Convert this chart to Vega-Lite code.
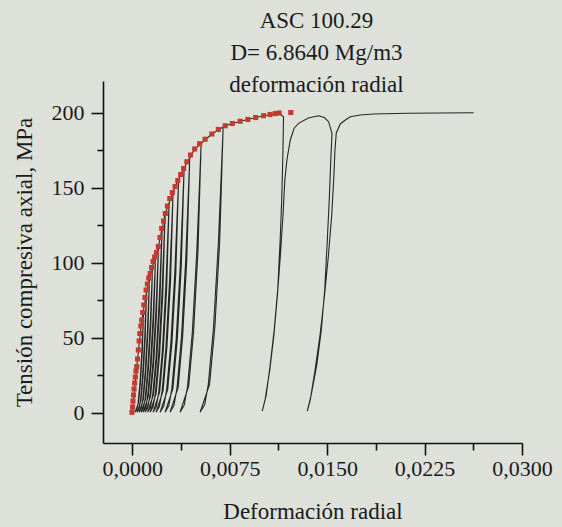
{
  "$schema": "https://vega.github.io/schema/vega-lite/v6.json",
  "width": 419,
  "height": 362,
  "autosize": {"type": "none"},
  "padding": {"left": 103, "top": 81, "right": 40, "bottom": 84},
  "background": "#dde1da",
  "config": {"view": {"stroke": null}, "font": "Liberation Serif, DejaVu Serif, serif"},
  "title": {
    "text": ["ASC 100.29", "D= 6.8640 Mg/m3", "deformación radial"],
    "font": "Liberation Serif, DejaVu Serif, serif",
    "fontSize": 23,
    "fontWeight": "normal",
    "color": "#1a1a1a",
    "lineHeight": 32,
    "anchor": "middle",
    "dx": 4,
    "offset": -16
  },
  "datasets": {
    "lines": [
      {"c":0,"x":0,"y":0.5},{"c":0,"x":0.00034,"y":31},{"c":0,"x":0.00072,"y":62},{"c":0,"x":0.00137,"y":93},{"c":0,"x":0.002,"y":111},{"c":0,"x":0.00254,"y":133},{"c":0,"x":0.00329,"y":151},{"c":0,"x":0.0039,"y":162},{"c":0,"x":0.0048,"y":176},{"c":0,"x":0.00612,"y":186},{"c":0,"x":0.00715,"y":191.5},{"c":0,"x":0.0083,"y":194.5},{"c":0,"x":0.0095,"y":197},{"c":0,"x":0.0106,"y":199},{"c":0,"x":0.0113,"y":199.6},{"c":0,"x":0.01164,"y":197.5},
      {"c":0,"x":0.01158,"y":168.7},{"c":0,"x":0.0115,"y":142},{"c":0,"x":0.01138,"y":115.3},{"c":0,"x":0.01119,"y":82},{"c":0,"x":0.01092,"y":55.3},{"c":0,"x":0.01061,"y":32},{"c":0,"x":0.01031,"y":12},{"c":0,"x":0.01,"y":1.3},
      {"c":0,"x":0.01022,"y":8.7},{"c":0,"x":0.01058,"y":28.7},{"c":0,"x":0.0109,"y":52},{"c":0,"x":0.01117,"y":78.7},{"c":0,"x":0.0114,"y":105.3},{"c":0,"x":0.0116,"y":132},{"c":0,"x":0.01174,"y":155.3},{"c":0,"x":0.0119,"y":168.7},{"c":0,"x":0.01216,"y":182},{"c":0,"x":0.01246,"y":190},{"c":0,"x":0.0128,"y":193.1},{"c":0,"x":0.01354,"y":196.7},{"c":0,"x":0.01434,"y":198.2},{"c":0,"x":0.01478,"y":197},{"c":0,"x":0.01511,"y":194.2},{"c":0,"x":0.01537,"y":186.5},
      {"c":0,"x":0.01528,"y":168.7},{"c":0,"x":0.01516,"y":142},{"c":0,"x":0.01501,"y":115.3},{"c":0,"x":0.01481,"y":82},{"c":0,"x":0.01455,"y":55.3},{"c":0,"x":0.0142,"y":32},{"c":0,"x":0.01377,"y":12},{"c":0,"x":0.01347,"y":1.3},
      {"c":0,"x":0.0137,"y":8.7},{"c":0,"x":0.01407,"y":28.7},{"c":0,"x":0.01445,"y":52},{"c":0,"x":0.0148,"y":78.7},{"c":0,"x":0.0151,"y":105.3},{"c":0,"x":0.01535,"y":132},{"c":0,"x":0.0155,"y":155.3},{"c":0,"x":0.0156,"y":175.3},{"c":0,"x":0.0157,"y":186.7},{"c":0,"x":0.01601,"y":192.7},{"c":0,"x":0.0164,"y":195.3},{"c":0,"x":0.01678,"y":197.5},{"c":0,"x":0.01755,"y":198.7},{"c":0,"x":0.01858,"y":199.3},{"c":0,"x":0.02115,"y":199.8},{"c":0,"x":0.02372,"y":200},{"c":0,"x":0.02628,"y":200.2},
      {"c":1,"x":0.000863,"y":68},{"c":1,"x":0.000729,"y":40.8},{"c":1,"x":0.000589,"y":20.4},{"c":1,"x":0.000441,"y":6.8},{"c":1,"x":0.000339,"y":2},{"c":1,"x":0.000208,"y":0.5},{"c":1,"x":0.000477,"y":6.8},{"c":1,"x":0.000627,"y":20.4},{"c":1,"x":0.000765,"y":40.8},{"c":1,"x":0.000863,"y":68},
      {"c":2,"x":0.001094,"y":82},{"c":2,"x":0.000944,"y":49.2},{"c":2,"x":0.000788,"y":24.6},{"c":2,"x":0.000622,"y":8.2},{"c":2,"x":0.000508,"y":2.5},{"c":2,"x":0.000362,"y":0.5},{"c":2,"x":0.000662,"y":8.2},{"c":2,"x":0.00083,"y":24.6},{"c":2,"x":0.000984,"y":49.2},{"c":2,"x":0.001094,"y":82},
      {"c":3,"x":0.001325,"y":91},{"c":3,"x":0.001159,"y":54.6},{"c":3,"x":0.000987,"y":27.3},{"c":3,"x":0.000803,"y":9.1},{"c":3,"x":0.000678,"y":2.7},{"c":3,"x":0.000516,"y":0.5},{"c":3,"x":0.000848,"y":9.1},{"c":3,"x":0.001034,"y":27.3},{"c":3,"x":0.001204,"y":54.6},{"c":3,"x":0.001325,"y":91},
      {"c":4,"x":0.001557,"y":98},{"c":4,"x":0.001375,"y":58.8},{"c":4,"x":0.001187,"y":29.4},{"c":4,"x":0.000986,"y":9.8},{"c":4,"x":0.000848,"y":2.9},{"c":4,"x":0.000671,"y":0.5},{"c":4,"x":0.001034,"y":9.8},{"c":4,"x":0.001238,"y":29.4},{"c":4,"x":0.001424,"y":58.8},{"c":4,"x":0.001557,"y":98},
      {"c":5,"x":0.001789,"y":105},{"c":5,"x":0.001591,"y":63},{"c":5,"x":0.001386,"y":31.5},{"c":5,"x":0.001167,"y":10.5},{"c":5,"x":0.001018,"y":3.2},{"c":5,"x":0.000825,"y":0.5},{"c":5,"x":0.00122,"y":10.5},{"c":5,"x":0.001442,"y":31.5},{"c":5,"x":0.001644,"y":63},{"c":5,"x":0.001789,"y":105},
      {"c":6,"x":0.00202,"y":112},{"c":6,"x":0.001807,"y":67.2},{"c":6,"x":0.001585,"y":33.6},{"c":6,"x":0.001349,"y":11.2},{"c":6,"x":0.001187,"y":3.4},{"c":6,"x":0.000979,"y":0.5},{"c":6,"x":0.001406,"y":11.2},{"c":6,"x":0.001645,"y":33.6},{"c":6,"x":0.001864,"y":67.2},{"c":6,"x":0.00202,"y":112},
      {"c":7,"x":0.00229,"y":123},{"c":7,"x":0.002061,"y":73.8},{"c":7,"x":0.001823,"y":36.9},{"c":7,"x":0.001569,"y":12.3},{"c":7,"x":0.001396,"y":3.7},{"c":7,"x":0.001172,"y":0.5},{"c":7,"x":0.00163,"y":12.3},{"c":7,"x":0.001888,"y":36.9},{"c":7,"x":0.002122,"y":73.8},{"c":7,"x":0.00229,"y":123},
      {"c":8,"x":0.00252,"y":133},{"c":8,"x":0.002283,"y":79.8},{"c":8,"x":0.002037,"y":39.9},{"c":8,"x":0.001774,"y":13.3},{"c":8,"x":0.001595,"y":4},{"c":8,"x":0.001364,"y":0.5},{"c":8,"x":0.001838,"y":13.3},{"c":8,"x":0.002104,"y":39.9},{"c":8,"x":0.002347,"y":79.8},{"c":8,"x":0.00252,"y":133},
      {"c":9,"x":0.002829,"y":140},{"c":9,"x":0.002576,"y":84},{"c":9,"x":0.002314,"y":42},{"c":9,"x":0.002034,"y":14},{"c":9,"x":0.001843,"y":4.2},{"c":9,"x":0.001596,"y":0.5},{"c":9,"x":0.002102,"y":14},{"c":9,"x":0.002385,"y":42},{"c":9,"x":0.002644,"y":84},{"c":9,"x":0.002829,"y":140},
      {"c":10,"x":0.003137,"y":147.5},{"c":10,"x":0.002868,"y":88.5},{"c":10,"x":0.002589,"y":44.3},{"c":10,"x":0.002292,"y":14.8},{"c":10,"x":0.002089,"y":4.4},{"c":10,"x":0.001827,"y":0.5},{"c":10,"x":0.002364,"y":14.8},{"c":10,"x":0.002665,"y":44.3},{"c":10,"x":0.002941,"y":88.5},{"c":10,"x":0.003137,"y":147.5},
      {"c":11,"x":0.003561,"y":156},{"c":11,"x":0.003269,"y":93.6},{"c":11,"x":0.002965,"y":46.8},{"c":11,"x":0.002641,"y":15.6},{"c":11,"x":0.00242,"y":4.7},{"c":11,"x":0.002135,"y":0.5},{"c":11,"x":0.00272,"y":15.6},{"c":11,"x":0.003048,"y":46.8},{"c":11,"x":0.003347,"y":93.6},{"c":11,"x":0.003561,"y":156},
      {"c":12,"x":0.003986,"y":163},{"c":12,"x":0.003686,"y":97.8},{"c":12,"x":0.003374,"y":48.9},{"c":12,"x":0.003041,"y":16.3},{"c":12,"x":0.002814,"y":4.9},{"c":12,"x":0.002521,"y":0.5},{"c":12,"x":0.003122,"y":16.3},{"c":12,"x":0.003459,"y":48.9},{"c":12,"x":0.003766,"y":97.8},{"c":12,"x":0.003986,"y":163},
      {"c":13,"x":0.004417,"y":170},{"c":13,"x":0.004107,"y":102},{"c":13,"x":0.003785,"y":51},{"c":13,"x":0.003442,"y":17},{"c":13,"x":0.003208,"y":5.1},{"c":13,"x":0.002906,"y":0.5},{"c":13,"x":0.003526,"y":17},{"c":13,"x":0.003873,"y":51},{"c":13,"x":0.00419,"y":102},{"c":13,"x":0.004417,"y":170},
      {"c":14,"x":0.005296,"y":180},{"c":14,"x":0.004964,"y":108},{"c":14,"x":0.004619,"y":54},{"c":14,"x":0.004252,"y":18},{"c":14,"x":0.004001,"y":5.4},{"c":14,"x":0.003677,"y":0.5},{"c":14,"x":0.004341,"y":18},{"c":14,"x":0.004713,"y":54},{"c":14,"x":0.005053,"y":108},{"c":14,"x":0.005296,"y":180},
      {"c":15,"x":0.006991,"y":190.5},{"c":15,"x":0.006628,"y":114.3},{"c":15,"x":0.00625,"y":57.2},{"c":15,"x":0.005847,"y":19.1},{"c":15,"x":0.005573,"y":5.7},{"c":15,"x":0.005218,"y":0.5},{"c":15,"x":0.005945,"y":19.1},{"c":15,"x":0.006353,"y":57.2},{"c":15,"x":0.006725,"y":114.3},{"c":15,"x":0.006991,"y":190.5}
    ],
    "env": [
      {"x":-0.00003,"y":0.5},{"x":0.00002,"y":4},{"x":0.00005,"y":8},{"x":0.00009,"y":12},{"x":0.00013,"y":16},{"x":0.00018,"y":20},{"x":0.00023,"y":24},{"x":0.00028,"y":28},{"x":0.00034,"y":31},{"x":0.0004,"y":36},{"x":0.00046,"y":42},{"x":0.00052,"y":48},{"x":0.00058,"y":53},{"x":0.00065,"y":58},{"x":0.00072,"y":62},{"x":0.0008,"y":67},{"x":0.00088,"y":72},{"x":0.00097,"y":77},{"x":0.00106,"y":82},{"x":0.00116,"y":86},{"x":0.00126,"y":90},{"x":0.00137,"y":93},{"x":0.00148,"y":97},{"x":0.0016,"y":101},{"x":0.00172,"y":104},{"x":0.00186,"y":107},{"x":0.002,"y":111},{"x":0.00213,"y":117},{"x":0.00226,"y":123},{"x":0.0024,"y":128},{"x":0.00254,"y":133},{"x":0.0027,"y":138},{"x":0.00288,"y":143},{"x":0.00308,"y":147},{"x":0.00329,"y":151},{"x":0.0035,"y":155},{"x":0.00372,"y":159},{"x":0.00395,"y":163},{"x":0.0042,"y":167.5},{"x":0.00448,"y":172},{"x":0.0048,"y":176},{"x":0.00518,"y":179.5},{"x":0.0056,"y":182.5},{"x":0.00612,"y":186},{"x":0.00662,"y":189},{"x":0.00715,"y":191.5},{"x":0.0077,"y":193},{"x":0.0083,"y":194.5},{"x":0.0089,"y":195.7},{"x":0.0095,"y":197},{"x":0.0101,"y":198.2},{"x":0.0106,"y":199},{"x":0.011,"y":199.6},{"x":0.0113,"y":200},{"x":0.0122,"y":200.3}
    ]
  },
  "layer": [
    {
      "data": {"name": "lines"},
      "mark": {"type": "line", "color": "#262626", "strokeWidth": 1.1, "clip": true},
      "encoding": {
        "x": {
          "field": "x", "type": "quantitative",
          "scale": {"domain": [-0.00226, 0.03], "nice": false, "zero": false},
          "axis": {
            "orient": "bottom",
            "values": [0, 0.0075, 0.015, 0.0225, 0.03],
            "labelExpr": "replace(format(datum.value, '.4f'), '.', ',')",
            "grid": false,
            "domainColor": "#111", "domainWidth": 1.6,
            "tickColor": "#111", "tickWidth": 1.6, "tickSize": 12,
            "labelFont": "Liberation Serif, DejaVu Serif, serif", "labelFontSize": 22, "labelColor": "#1a1a1a",
            "labelBaseline": "alphabetic", "labelPadding": 20,
            "labelOverlap": false, "labelFlush": false,
            "title": "Deformación radial",
            "titleFont": "Liberation Serif, DejaVu Serif, serif", "titleFontSize": 23, "titleFontWeight": "normal", "titleColor": "#1a1a1a",
            "titleBaseline": "alphabetic", "titleY": 75
          }
        },
        "y": {
          "field": "y", "type": "quantitative",
          "scale": {"domain": [-20, 221.33], "nice": false, "zero": false},
          "axis": {
            "orient": "left",
            "values": [0, 50, 100, 150, 200],
            "grid": false,
            "domainColor": "#111", "domainWidth": 1.6,
            "tickColor": "#111", "tickWidth": 1.6, "tickSize": 12,
            "labelFont": "Liberation Serif, DejaVu Serif, serif", "labelFontSize": 22, "labelColor": "#1a1a1a",
            "labelBaseline": "middle", "labelPadding": 7,
            "title": "Tensión compresiva axial, MPa",
            "titleFont": "Liberation Serif, DejaVu Serif, serif", "titleFontSize": 23, "titleFontWeight": "normal", "titleColor": "#1a1a1a",
            "titleAngle": 270, "titleBaseline": "alphabetic", "titleAlign": "center",
            "titleX": -72, "titleY": 181
          }
        },
        "detail": {"field": "c", "type": "nominal"},
        "order": {"value": null}
      }
    },
    {
      "data": {"name": "env"},
      "mark": {"type": "square", "color": "#c23b2e", "size": 26, "opacity": 1},
      "encoding": {
        "x": {
          "field": "x", "type": "quantitative",
          "scale": {"domain": [-0.00226, 0.03], "nice": false, "zero": false},
          "axis": {
            "orient": "bottom",
            "values": [0.00375, 0.01125, 0.01875, 0.02625],
            "labels": false, "domain": false, "grid": false, "title": null,
            "tickColor": "#111", "tickWidth": 1.6, "tickSize": 7
          }
        },
        "y": {
          "field": "y", "type": "quantitative",
          "scale": {"domain": [-20, 221.33], "nice": false, "zero": false},
          "axis": {
            "orient": "left",
            "values": [25, 75, 125, 175],
            "labels": false, "domain": false, "grid": false, "title": null,
            "tickColor": "#111", "tickWidth": 1.6, "tickSize": 6
          }
        }
      }
    }
  ],
  "resolve": {
    "scale": {"x": "independent", "y": "independent"},
    "axis": {"x": "independent", "y": "independent"}
  }
}
